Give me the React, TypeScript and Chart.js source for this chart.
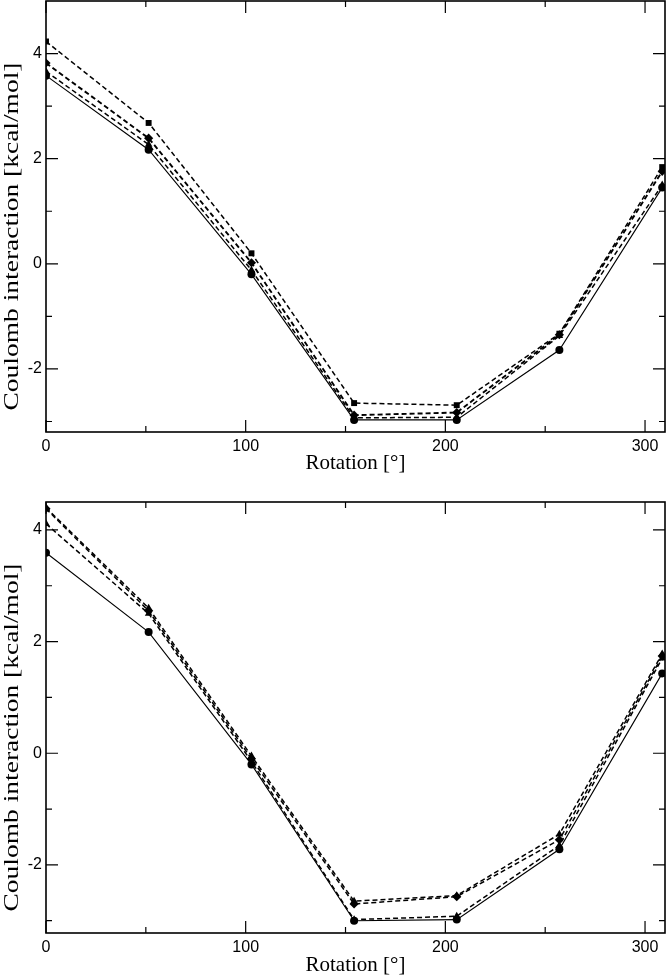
import React, { useEffect, useRef } from "react";
import { Chart, registerables } from "chart.js";
Chart.register(...registerables);

const rotations = [0, 51.4, 102.9, 154.3, 205.7, 257.1, 308.6];
const xMajorTicks = [0, 100, 200, 300];
const xMinorTicks = [50, 150, 250];
const yMajorTicks = [-2, 0, 2, 4];
const yMinorTicks = [-3, -1, 1, 3];

// top panel
const topSquares = [4.23, 2.68, 0.2, -2.65, -2.69, -1.33, 1.84];
const topDiamonds = [3.82, 2.39, 0.02, -2.88, -2.83, -1.35, 1.76];
const topTriangles = [3.66, 2.27, -0.12, -2.93, -2.92, -1.37, 1.5];
const topCircles = [3.58, 2.17, -0.2, -2.97, -2.97, -1.64, 1.45];

// bottom panel
const botTrianglesUp = [4.4, 2.6, -0.05, -2.65, -2.55, -1.45, 1.78];
const botDiamonds = [4.38, 2.55, -0.1, -2.7, -2.57, -1.55, 1.74];
const botTrianglesLow = [4.11, 2.5, -0.15, -2.98, -2.92, -1.65, 1.7];
const botCircles = [3.59, 2.17, -0.2, -3.0, -2.98, -1.72, 1.43];

const xTitle = "Rotation [°]";
const yTitle = "Coulomb interaction [kcal/mol]";

type SeriesDef = { data: number[]; style: string; dashed: boolean; radius: number; width?: number };

const frameTicksPlugin = {
  id: "frameTicks",
  afterDraw(chart: any) {
    const { ctx, chartArea } = chart;
    const { left, right, top, bottom } = chartArea;
    const xs = chart.scales.x;
    const ys = chart.scales.y;
    ctx.save();
    ctx.strokeStyle = "#000";
    ctx.lineWidth = 1.6;
    ctx.strokeRect(left, top, right - left, bottom - top);
    ctx.lineWidth = 1.2;
    const drawX = (vals: number[], len: number) => {
      vals.forEach((v) => {
        const px = xs.getPixelForValue(v);
        ctx.beginPath();
        ctx.moveTo(px, bottom);
        ctx.lineTo(px, bottom - len);
        ctx.moveTo(px, top);
        ctx.lineTo(px, top + len);
        ctx.stroke();
      });
    };
    const drawY = (vals: number[], len: number) => {
      vals.forEach((v) => {
        const py = ys.getPixelForValue(v);
        ctx.beginPath();
        ctx.moveTo(left, py);
        ctx.lineTo(left + len, py);
        ctx.moveTo(right, py);
        ctx.lineTo(right - len, py);
        ctx.stroke();
      });
    };
    drawX(xMajorTicks, 12);
    drawX(xMinorTicks, 6);
    drawY(yMajorTicks, 12);
    drawY(yMinorTicks, 6);

    // y title, stretched along its length
    const cy = (top + bottom) / 2 + 20;
    ctx.fillStyle = "#000";
    ctx.translate(12, cy);
    ctx.rotate(-Math.PI / 2);
    ctx.font = '21px "Liberation Serif"';
    const w = ctx.measureText(yTitle).width;
    ctx.scale(348 / w, 1);
    ctx.textAlign = "center";
    ctx.textBaseline = "middle";
    ctx.fillText(yTitle, 0, 0);
    ctx.restore();
  },
};

function Panel(props: {
  series: SeriesDef[];
  yMin: number;
  yMax: number;
  top: number;
  height: number;
  padTop: number;
  xAxisHeight: number;
  titlePadBottom: number;
}) {
  const ref = useRef<HTMLCanvasElement>(null);
  useEffect(() => {
    const canvas = ref.current!;
    const chart = new Chart(canvas, {
      type: "line",
      data: {
        datasets: props.series.map((s) => ({
          data: rotations.map((x, i) => ({ x, y: s.data[i] })),
          borderColor: "#000",
          backgroundColor: "#000",
          borderWidth: s.width ?? (s.dashed ? 1.5 : 1.1),
          borderDash: s.dashed ? [5, 3] : [],
          pointStyle: s.style as any,
          pointRadius: s.radius,
          pointBorderWidth: 0,
          pointBackgroundColor: "#000",
          tension: 0,
          fill: false,
        })),
      },
      options: {
        animation: false,
        responsive: false,
        maintainAspectRatio: false,
        layout: { autoPadding: false, padding: { top: props.padTop, right: 2, left: 0, bottom: 0 } },
        plugins: { legend: { display: false }, tooltip: { enabled: false } },
        scales: {
          x: {
            type: "linear",
            min: 0,
            max: 310,
            afterBuildTicks: (s: any) => {
              s.ticks = xMajorTicks.map((v) => ({ value: v }));
            },
            afterFit: (s: any) => {
              s.height = props.xAxisHeight;
              s.paddingLeft = 0;
              s.paddingRight = 0;
            },
            grid: { display: false, drawTicks: false },
            border: { display: false },
            ticks: {
              color: "#000",
              font: { family: "Liberation Sans", size: 16 },
              padding: 5,
              maxRotation: 0,
              autoSkip: false,
            },
            title: {
              display: true,
              text: xTitle,
              color: "#000",
              font: { family: "Liberation Serif", size: 21 },
              padding: { top: 0, bottom: props.titlePadBottom },
            },
          },
          y: {
            type: "linear",
            min: props.yMin,
            max: props.yMax,
            afterBuildTicks: (s: any) => {
              s.ticks = yMajorTicks.map((v) => ({ value: v }));
            },
            afterFit: (s: any) => {
              s.width = 46;
              s.paddingTop = 0;
              s.paddingBottom = 0;
            },
            grid: { display: false, drawTicks: false },
            border: { display: false },
            ticks: {
              color: "#000",
              font: { family: "Liberation Sans", size: 16 },
              padding: 4,
              autoSkip: false,
            },
          },
        },
      },
      plugins: [frameTicksPlugin],
    });
    return () => chart.destroy();
  }, []);
  return (
    <div style={{ position: "absolute", left: 0, top: props.top, width: 667, height: props.height }}>
      <canvas ref={ref} width={667} height={props.height} style={{ display: "block" }} />
    </div>
  );
}

export default function App() {
  const topSeries: SeriesDef[] = [
    { data: topSquares, style: "rect", dashed: true, radius: 4.2 },
    { data: topDiamonds, style: "rectRot", dashed: true, radius: 4.6, width: 1.9 },
    { data: topTriangles, style: "triangle", dashed: true, radius: 4.4 },
    { data: topCircles, style: "circle", dashed: false, radius: 4 },
  ];
  const botSeries: SeriesDef[] = [
    { data: botTrianglesUp, style: "triangle", dashed: true, radius: 4.4 },
    { data: botDiamonds, style: "rectRot", dashed: true, radius: 4.6 },
    { data: botTrianglesLow, style: "triangle", dashed: true, radius: 4.4 },
    { data: botCircles, style: "circle", dashed: false, radius: 4 },
  ];
  return (
    <div style={{ position: "absolute", left: 0, top: 0, width: 667, height: 978, background: "#fff" }}>
      <Panel series={topSeries} yMin={-3.2} yMax={5} top={0} height={480} padTop={1} xAxisHeight={48} titlePadBottom={4} />
      <Panel series={botSeries} yMin={-3.22} yMax={4.5} top={490} height={488} padTop={12} xAxisHeight={45} titlePadBottom={0} />
    </div>
  );
}
